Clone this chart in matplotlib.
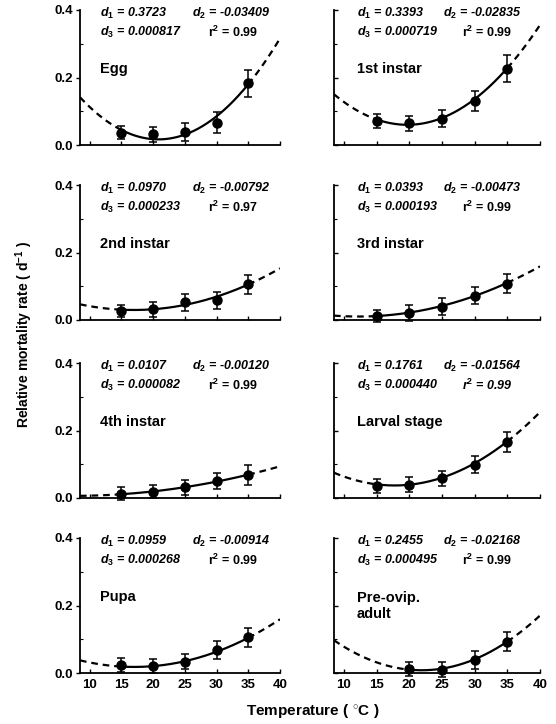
import numpy as np
import matplotlib
matplotlib.use('Agg')
import matplotlib.pyplot as plt

plt.rcParams['font.family'] = ['Liberation Sans', 'DejaVu Sans']
plt.rcParams['mathtext.fontset'] = 'custom'
plt.rcParams['mathtext.it'] = 'Liberation Sans:italic:bold'
plt.rcParams['mathtext.rm'] = 'Liberation Sans:bold'
plt.rcParams['mathtext.bf'] = 'Liberation Sans:bold'

# ---------------- data ----------------
stages = ['Egg', '1st instar', '2nd instar', '3rd instar',
          '4th instar', 'Larval stage', 'Pupa', 'Pre-ovip.\nadult']

temps_std = [15, 20, 25, 30, 35]
temps_preovip = [20, 25, 30, 35]

egg_rate = [0.037, 0.032, 0.039, 0.066, 0.183]
egg_err = [0.020, 0.022, 0.026, 0.031, 0.040]
inst1_rate = [0.071, 0.064, 0.078, 0.130, 0.226]
inst1_err = [0.020, 0.022, 0.025, 0.030, 0.040]
inst2_rate = [0.027, 0.032, 0.052, 0.059, 0.106]
inst2_err = [0.018, 0.022, 0.025, 0.025, 0.028]
inst3_rate = [0.012, 0.020, 0.040, 0.072, 0.107]
inst3_err = [0.018, 0.023, 0.024, 0.025, 0.028]
inst4_rate = [0.013, 0.019, 0.032, 0.050, 0.068]
inst4_err = [0.020, 0.020, 0.022, 0.024, 0.029]
larval_rate = [0.036, 0.039, 0.058, 0.099, 0.166]
larval_err = [0.020, 0.022, 0.022, 0.024, 0.029]
pupa_rate = [0.024, 0.021, 0.033, 0.068, 0.106]
pupa_err = [0.020, 0.020, 0.022, 0.026, 0.028]
preovip_rate = [0.012, 0.010, 0.039, 0.093]
preovip_err = [0.022, 0.022, 0.026, 0.029]

d1_vals = ['0.3723', '0.3393', '0.0970', '0.0393', '0.0107', '0.1761', '0.0959', '0.2455']
d2_vals = ['-0.03409', '-0.02835', '-0.00792', '-0.00473', '-0.00120', '-0.01564', '-0.00914', '-0.02168']
d3_vals = ['0.000817', '0.000719', '0.000233', '0.000193', '0.000082', '0.000440', '0.000268', '0.000495']
r2_vals = ['0.99', '0.99', '0.97', '0.99', '0.99', '0.99', '0.99', '0.99']

x_ticks = [10, 15, 20, 25, 30, 35, 40]
y_ticks = [0.0, 0.2, 0.4]

temps_all = [temps_std] * 7 + [temps_preovip]
rates_all = [egg_rate, inst1_rate, inst2_rate, inst3_rate, inst4_rate,
             larval_rate, pupa_rate, preovip_rate]
errs_all = [egg_err, inst1_err, inst2_err, inst3_err, inst4_err,
            larval_err, pupa_err, preovip_err]

# ---------------- layout ----------------
W, H = 556, 724
fig = plt.figure(figsize=(W / 100, H / 100), dpi=100)

col_x = [(80, 200), (334, 206)]
row_top = [10, 185, 363, 538]
ax_h = 135
XMIN, XMAX = 8.5, 40

for i, stage in enumerate(stages):
    r, c = divmod(i, 2)
    x0, w = col_x[c]
    ax = fig.add_axes([x0 / W, 1 - (row_top[r] + ax_h) / H, w / W, ax_h / H])
    d1, d2, d3 = float(d1_vals[i]), float(d2_vals[i]), float(d3_vals[i])
    t = np.array(temps_all[i])
    tmin, tmax = t.min(), t.max()

    def f(x):
        return d1 + d2 * x + d3 * x ** 2

    xl = np.linspace(XMIN, tmin, 100)
    xs = np.linspace(tmin, tmax, 200)
    xr = np.linspace(tmax, XMAX, 100)
    ax.plot(xl, f(xl), color='black', lw=1.6, dashes=(3, 2.2), clip_on=True)
    ax.plot(xr, f(xr), color='black', lw=1.6, dashes=(3, 2.2), clip_on=True)
    ax.plot(xs, f(xs), color='black', lw=1.6)
    ax.errorbar(t, rates_all[i], yerr=errs_all[i], fmt='o', color='black',
                ms=6.5, elinewidth=1.1, capsize=3.2, capthick=1.1, zorder=5,
                clip_on=False)

    ax.set_xlim(XMIN, XMAX)
    ax.set_ylim(0, 0.4)
    ax.spines['top'].set_visible(False)
    ax.spines['right'].set_visible(False)
    ax.spines['left'].set_linewidth(1.3)
    ax.spines['bottom'].set_linewidth(1.3)
    ax.set_xticks(x_ticks)
    ax.set_yticks(y_ticks)
    ax.set_yticks([0.1, 0.3], minor=True)
    ax.tick_params(axis='x', direction='in', length=3, width=1, labelsize=9.5, pad=4)
    ax.tick_params(axis='y', direction='out', length=3, width=1, labelsize=9.5, pad=2)
    ax.tick_params(axis='y', which='minor', direction='in', length=2, width=0.8)
    if r < 3:
        ax.set_xticklabels([])
    else:
        ax.set_xticklabels([str(v) for v in x_ticks], fontweight='bold')
    if c == 1:
        ax.set_yticklabels([])
        ax.tick_params(axis='y', direction='in')
    else:
        ax.set_yticklabels(['%.1f' % v for v in y_ticks], fontweight='bold')

    fx1 = 0.10 if c == 0 else 0.11
    fx2 = 0.56 if c == 0 else 0.53
    fx3 = 0.64 if c == 0 else 0.62
    kw = dict(transform=ax.transAxes, fontsize=9, fontweight='bold',
              fontstyle='italic', va='center', ha='left')
    ax.text(fx1, 0.975, r'$d_1$ = ' + d1_vals[i], **kw)
    ax.text(fx2, 0.975, r'$d_2$ = ' + d2_vals[i], **kw)
    ax.text(fx1, 0.835, r'$d_3$ = ' + d3_vals[i], **kw)
    kw_r = dict(kw)
    if stage != 'Larval stage':
        kw_r['fontstyle'] = 'normal'
    ax.text(fx3, 0.835, r'r$^2$ = ' + r2_vals[i], **kw_r)
    ax.text(fx1, 0.56 if '\n' not in stage else 0.605, stage, transform=ax.transAxes,
            fontsize=10.5, fontweight='bold', va='top' if '\n' in stage else 'center',
            ha='left', linespacing=1.15)

fig.text(24 / W, 1 - 334 / H, r'Relative mortality rate ( d$^{\mathbf{-1}}$ )',
         rotation=90, ha='center', va='center', fontsize=10, fontweight='bold')
fig.text(313 / W, 1 - 711 / H, r'Temperature ( $^{\circ}$C )',
         ha='center', va='center', fontsize=11, fontweight='bold')

fig.savefig('out.png', dpi=100)
